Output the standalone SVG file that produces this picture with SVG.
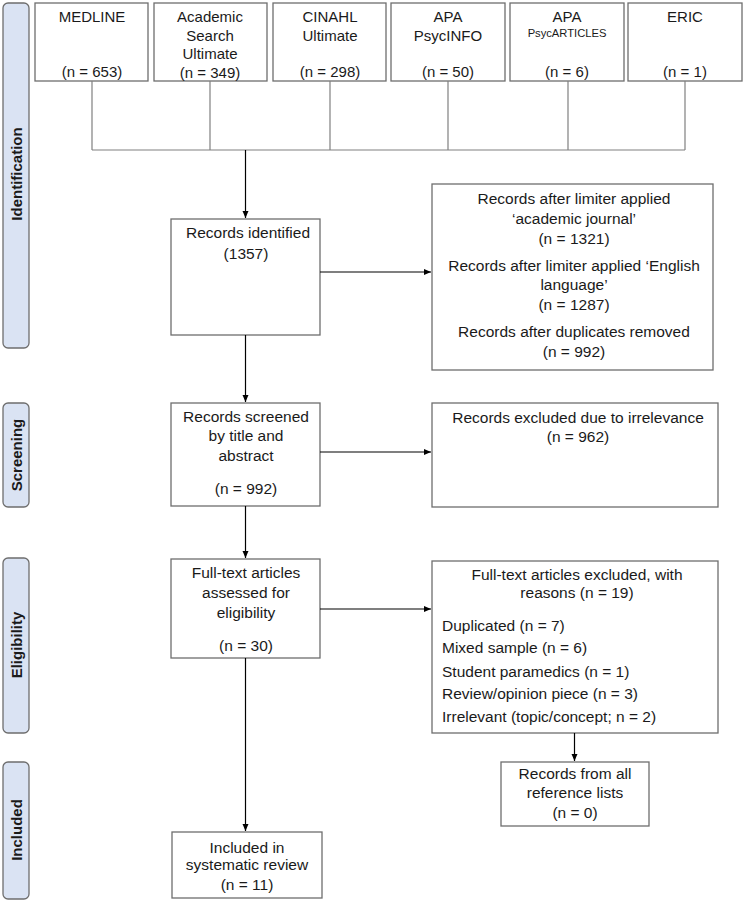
<svg xmlns="http://www.w3.org/2000/svg" width="744" height="904" viewBox="0 0 744 904">
<defs>
<marker id="arr" markerWidth="8" markerHeight="8" refX="7" refY="4" orient="auto" markerUnits="userSpaceOnUse">
<path d="M0,1 L7,4 L0,7 Z" fill="#000"/>
</marker>
<style>
.box{fill:#fff;stroke:#6e6e6e;stroke-width:1.3}
.phase{fill:#dae3f3;stroke:#6e6e6e;stroke-width:1.3}
.t{font-family:"Liberation Sans",Arial,sans-serif;font-size:15.5px;fill:#1a1a1a;text-anchor:middle}
.tt{font-family:"Liberation Sans",Arial,sans-serif;font-size:15px;fill:#1a1a1a;text-anchor:middle}
.tl{font-family:"Liberation Sans",Arial,sans-serif;font-size:15.5px;fill:#1a1a1a;text-anchor:start}
.ts{font-family:"Liberation Sans",Arial,sans-serif;font-size:11.2px;fill:#1a1a1a;text-anchor:middle}
.ph{font-family:"Liberation Sans",Arial,sans-serif;font-size:15px;font-weight:bold;fill:#1a1a1a;text-anchor:middle}
.gl{stroke:#808080;stroke-width:1.2;fill:none}
.al{stroke:#000;stroke-width:1.2;fill:none}
</style>
</defs>
<rect width="744" height="904" fill="#fff"/>

<g id="phase-identification"><rect class="phase" x="3" y="3" width="26" height="345" rx="5"/><text class="ph" transform="translate(22,174) rotate(-90)">Identification</text></g>
<g id="phase-screening"><rect class="phase" x="3" y="403" width="26" height="104" rx="5"/><text class="ph" transform="translate(22,455) rotate(-90)">Screening</text></g>
<g id="phase-eligibility"><rect class="phase" x="3" y="558" width="26" height="175" rx="5"/><text class="ph" transform="translate(22,645) rotate(-90)">Eligibility</text></g>
<g id="phase-included"><rect class="phase" x="3" y="762" width="26" height="137" rx="5"/><text class="ph" transform="translate(22,830) rotate(-90)">Included</text></g>

<g id="db-medline"><rect class="box" x="35" y="3" width="113" height="78"/><text class="tt" x="92" y="22">MEDLINE</text><text class="tt" x="92" y="77">(n = 653)</text></g>
<g id="db-academic"><rect class="box" x="154" y="3" width="113" height="78"/><text class="tt" x="210" y="22">Academic</text><text class="tt" x="210" y="41">Search</text><text class="tt" x="210" y="59">Ultimate</text><text class="tt" x="210" y="78">(n = 349)</text></g>
<g id="db-cinahl"><rect class="box" x="273" y="3" width="113" height="78"/><text class="tt" x="330" y="22">CINAHL</text><text class="tt" x="330" y="41">Ultimate</text><text class="tt" x="330" y="77">(n = 298)</text></g>
<g id="db-psycinfo"><rect class="box" x="391" y="3" width="114" height="78"/><text class="tt" x="448" y="22">APA</text><text class="tt" x="448" y="41">PsycINFO</text><text class="tt" x="448" y="77">(n = 50)</text></g>
<g id="db-psycarticles"><rect class="box" x="510" y="3" width="114" height="78"/><text class="tt" x="567" y="22">APA</text><text class="ts" x="567" y="37">PsycARTICLES</text><text class="tt" x="567" y="77">(n = 6)</text></g>
<g id="db-eric"><rect class="box" x="628" y="3" width="114" height="78"/><text class="tt" x="685" y="22">ERIC</text><text class="tt" x="685" y="77">(n = 1)</text></g>

<g id="records-identified"><rect class="box" x="171" y="219" width="149" height="116"/><text class="t" x="248" y="238">Records identified</text><text class="t" x="246" y="259">(1357)</text></g>
<g id="records-limited"><rect class="box" x="432" y="184" width="281" height="186"/>
<text class="t" x="574" y="204">Records after limiter applied</text>
<text class="t" x="574" y="224">‘academic journal’</text>
<text class="t" x="574" y="244">(n = 1321)</text>
<text class="t" x="574" y="271">Records after limiter applied ‘English</text>
<text class="t" x="574" y="290">language’</text>
<text class="t" x="574" y="310">(n = 1287)</text>
<text class="t" x="574" y="337">Records after duplicates removed</text>
<text class="t" x="574" y="357">(n = 992)</text></g>

<g id="records-screened"><rect class="box" x="171" y="403" width="149" height="103"/><text class="t" x="246" y="422">Records screened</text><text class="t" x="246" y="441">by title and</text><text class="t" x="246" y="461">abstract</text><text class="t" x="246" y="494">(n = 992)</text></g>
<g id="records-excluded"><rect class="box" x="432" y="403" width="286" height="104"/><text class="t" x="578" y="423">Records excluded due to irrelevance</text><text class="t" x="578" y="442">(n = 962)</text></g>

<g id="fulltext-assessed"><rect class="box" x="171" y="559" width="149" height="99"/><text class="t" x="246" y="578">Full-text articles</text><text class="t" x="246" y="598">assessed for</text><text class="t" x="246" y="618">eligibility</text><text class="t" x="246" y="651">(n = 30)</text></g>
<g id="fulltext-excluded"><rect class="box" x="432" y="561" width="286" height="172"/>
<text class="t" x="577" y="580">Full-text articles excluded, with</text>
<text class="t" x="577" y="598">reasons (n = 19)</text>
<text class="tl" x="442" y="631">Duplicated (n = 7)</text>
<text class="tl" x="442" y="653">Mixed sample (n = 6)</text>
<text class="tl" x="442" y="677">Student paramedics (n = 1)</text>
<text class="tl" x="442" y="699">Review/opinion piece (n = 3)</text>
<text class="tl" x="442" y="722">Irrelevant (topic/concept; n = 2)</text></g>

<g id="reference-lists"><rect class="box" x="501" y="762" width="148" height="64"/><text class="t" x="575" y="779">Records from all</text><text class="t" x="575" y="798">reference lists</text><text class="t" x="575" y="818">(n = 0)</text></g>
<g id="included"><rect class="box" x="172" y="832" width="150" height="66"/><text class="t" x="247" y="853">Included in</text><text class="t" x="247" y="870">systematic review</text><text class="t" x="247" y="890">(n = 11)</text></g>

<g id="connectors">
<path class="gl" d="M92,81 V150 M210,81 V150 M330,81 V150 M448,81 V150 M568,81 V150 M685,81 V150 M92,150 H685"/>
<path class="al" d="M245.5,150 V218" marker-end="url(#arr)"/>
<path class="al" d="M320,272 H431" marker-end="url(#arr)"/>
<path class="al" d="M245.5,335 V402" marker-end="url(#arr)"/>
<path class="al" d="M320,452 H431" marker-end="url(#arr)"/>
<path class="al" d="M245.5,506 V558" marker-end="url(#arr)"/>
<path class="al" d="M320,609 H431" marker-end="url(#arr)"/>
<path class="al" d="M574.5,733 V761" marker-end="url(#arr)"/>
<path class="al" d="M245.5,658 V831" marker-end="url(#arr)"/>
</g>
</svg>
